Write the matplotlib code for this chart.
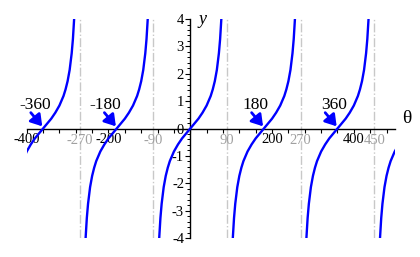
import numpy as np
import matplotlib
matplotlib.use('Agg')
import matplotlib.pyplot as plt
from matplotlib.ticker import MultipleLocator, FixedLocator

# one branch of the curve (offset in degrees from its zero -> y)
branch_offsets = [0, 10, 20, 30, 40, 50, 55, 60, 65, 70, 73, 76, 78, 80, 84]
branch_values = [0, 0.18, 0.36, 0.58, 0.84, 1.19, 1.43, 1.73, 2.14, 2.75, 3.27, 4.01, 4.70, 5.67, 9.5]

branch_centers = [-360, -180, 0, 180, 360, 540]
asymptotes = [-270, -90, 90, 270, 450]
asym_labels = ['-270', '-90', '90', '270', '450']

zero_points = [-360, -180, 180, 360]
zero_labels = ['-360', '-180', '180', '360']
zero_label_x = [-380, -209, 159, 353]

x_major = [-400, -200, 200, 400]
y_major = [-4, -3, -2, -1, 0, 1, 2, 3, 4]

blue = '#0000ff'
grey = '#a0a0a0'
serif = ['Liberation Serif', 'DejaVu Serif']

fig = plt.figure(figsize=(4.2, 2.57), dpi=100)
ax = fig.add_axes([0.0636, 0.0739, 0.8762, 0.852])

off = np.array(branch_offsets, dtype=float)
val = np.array(branch_values, dtype=float)
bx = np.concatenate([-off[::-1], off[1:]])
by = np.concatenate([-val[::-1], val[1:]])

for a in asymptotes:
    ax.plot([a, a], [-4, 4], color='#c8c8c8', lw=1.0, ls='-.', zorder=1)

for c in branch_centers:
    ax.plot(bx + c, by, color=blue, lw=1.7, zorder=3)

ax.set_xlim(-400, 500)
ax.set_ylim(-4, 4)

for s in ['top', 'right']:
    ax.spines[s].set_visible(False)
ax.spines['left'].set_position(('data', 0))
ax.spines['bottom'].set_position(('data', 0))
ax.spines['left'].set_linewidth(1.0)
ax.spines['bottom'].set_linewidth(1.0)

ax.xaxis.set_major_locator(FixedLocator(x_major))
ax.xaxis.set_minor_locator(MultipleLocator(40))
ax.set_xticklabels([str(v) for v in x_major], fontfamily=serif, fontsize=10.5)
ax.tick_params(axis='x', which='both', direction='out', length=3, width=0.8, pad=0.5)

ax.yaxis.set_major_locator(FixedLocator(y_major))
ax.yaxis.set_minor_locator(MultipleLocator(0.2))
ax.set_yticklabels([str(v) for v in y_major], fontfamily=serif, fontsize=10.5)
ax.tick_params(axis='y', which='major', direction='out', length=3.5, width=0.8, pad=1)
ax.tick_params(axis='y', which='minor', direction='out', length=2, width=0.7)

for a, lab in zip(asymptotes, asym_labels):
    ax.text(a, -0.45, lab, color=grey, fontsize=10.5, family=serif,
            ha='center', va='center')

for z, lab, lx in zip(zero_points, zero_labels, zero_label_x):
    ax.annotate('', xy=(z - 2, 0.08), xytext=(z - 30, 0.58),
                arrowprops=dict(arrowstyle='-|>,head_length=0.55,head_width=0.35',
                                color=blue, lw=2, shrinkA=0, shrinkB=0,
                                mutation_scale=12), zorder=4)
    ax.text(lx, 0.85, lab, fontsize=12.5, family=serif, ha='center', va='center')

ax.text(31, 4.0, 'y', fontsize=13, family=serif, style='italic',
        ha='center', va='center', clip_on=False)
ax.text(530, 0.35, '\u03b8', fontsize=14, family=serif,
        ha='center', va='center', clip_on=False)

fig.savefig('out.png', dpi=100)
